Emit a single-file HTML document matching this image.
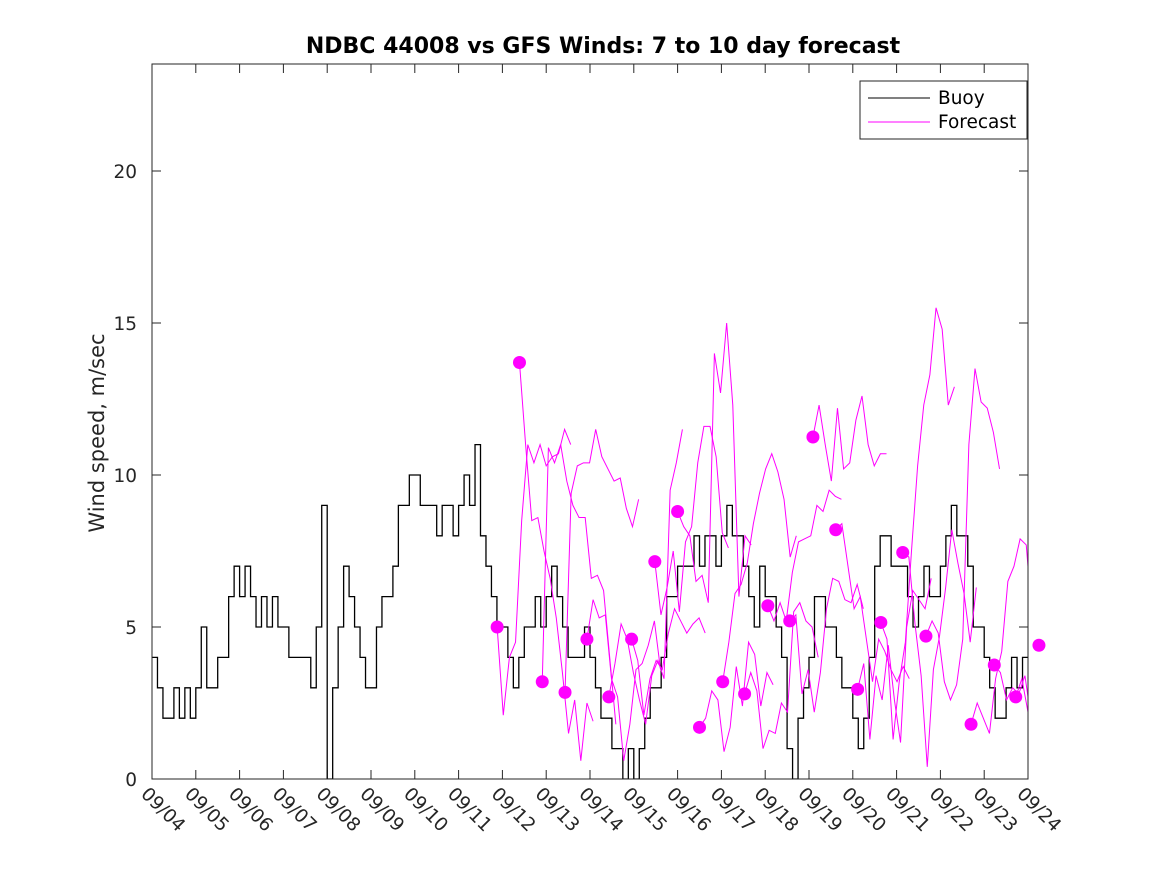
<!DOCTYPE html>
<html><head><meta charset="utf-8"><style>
body{margin:0;background:#fff;}
svg{font-family:"DejaVu Sans","Liberation Sans",sans-serif;}
</style></head><body>
<svg id="chart" width="1167" height="875" xmlns="http://www.w3.org/2000/svg">
<defs><clipPath id="plotclip"><rect x="152" y="64" width="876" height="715"/></clipPath></defs>
<rect x="0" y="0" width="1167" height="875" fill="#fff"/>
<rect x="152" y="64" width="876" height="715" fill="#fff"/>
<text x="603" y="53" text-anchor="middle" font-size="22" font-weight="bold" fill="#000">NDBC 44008 vs GFS Winds: 7 to 10 day forecast</text>
<text transform="translate(104,433) rotate(-90)" text-anchor="middle" font-size="21" fill="#262626">Wind speed, m/sec</text>
<g id="axes"></g>
<g id="series" clip-path="url(#plotclip)"></g>
<g id="dots"></g>
<rect x="152" y="64" width="876" height="715" fill="none" stroke="#262626" stroke-width="1"/>
<g>
<rect x="860" y="81" width="167" height="58" fill="#fff" stroke="#262626" stroke-width="1"/>
<line x1="868" y1="98" x2="930" y2="98" stroke="#000" stroke-width="1"/>
<text x="938" y="104" font-size="18.5" fill="#000">Buoy</text>
<line x1="868" y1="122" x2="930" y2="122" stroke="#ff00ff" stroke-width="1"/>
<text x="938" y="128" font-size="18.5" fill="#000">Forecast</text>
</g>
</svg>
<script>
const xTickLabels=["09/04","09/05","09/06","09/07","09/08","09/09","09/10","09/11","09/12","09/13","09/14","09/15","09/16","09/17","09/18","09/19","09/20","09/21","09/22","09/23","09/24"];
const yTicks=[0,5,10,15,20];
// buoy 3-hourly values, 8 per day starting 09/04
const buoy=[4,3,2,2,3,2,3,2, 3,5,3,3,4,4,6,7, 6,7,6,5,6,5,6,5, 5,4,4,4,4,3,5,9, 0,3,5,7,6,5,4,3,
 3,5,6,6,7,9,9,10, 10,9,9,9,8,9,9,8, 9,10,9,11,8,7,6,5, 5,4,3,4,5,5,6,5, 6,7,6,5,4,4,4,5,
 4,3,2,2,1,1,0,1, 0,1,2,3,3,4,6,6, 7,7,7,8,7,8,8,7, 8,9,8,8,7,6,5,7, 6,6,5,4,1,0,2,3,
 4,6,6,5,5,4,3,3, 2,1,2,4,7,8,8,7, 7,7,6,5,6,7,6,6, 7,8,9,8,8,7,5,5, 4,3,2,2,3,4,3,4];
// forecast start day (days after 09/04) and values along each forecast
const fcStart=[7.88,8.39,8.91,9.43,9.93,10.43,10.95,11.48,12.00,12.50,13.03,13.53,14.06,14.56,15.09,15.61,16.11,16.64,17.14,17.67,18.70,19.23,19.72,20.25];
const fcValues=[
[5,2.1,4,4.5,8.5,11,10.4,11,10.3,10.6,10.7,11.5,11],
[13.7,11,8.5,8.6,7.5,6.6,5.3,3.5,1.5,2.6,0.6,2.5,1.9],
[3.2,10.9,10.4,11,9.8,9.0,8.6,8.6,6.6,6.7,6.2,4,1.8],
[2.85,9.4,10.3,10.4,10.4,11.5,10.6,10.2,9.8,9.9,8.9,8.3,9.2],
[4.6,5.9,5.3,5.4,3.3,2.7,0.6,1.8,3.6,3.8,4.4,5.2,3.6],
[2.7,3.8,5.1,4.6,3.5,2.6,1.8,3.4,3.9,3.3,9.5,10.4,11.5],
[4.6,3.9,2.1,3.3,3.9,3.6,4.8,5.6,5.2,4.8,5.1,5.3,4.8],
[7.15,5.4,6.3,7.5,5.5,7.8,8.3,10.4,11.6,11.6,10.6,8.1,7.6],
[8.8,8.3,8.0,6.5,6.7,5.8,14,12.7,15,12.3,6,8,7.7],
[1.7,2.0,2.9,2.6,0.9,1.7,3.7,2.4,4.5,4.1,2.4,3.5,3.1],
[3.2,4.5,6.1,6.4,7.1,8.4,9.4,10.2,10.7,10.1,9.2,7.3,8],
[2.8,3.5,2.9,1.0,1.6,1.5,2.5,2.2,5.5,5.8,5.2,5.0,4.0],
[5.7,5.2,5.8,5.2,6.8,7.8,7.9,8.0,9.0,8.8,9.5,9.3,9.2],
[5.2,5.4,2.8,3.6,2.2,3.5,5.6,6.6,6.5,5.9,5.8,6.4,5.6],
[11.25,12.3,11,9.8,12.2,10.2,10.4,11.8,12.6,11.0,10.3,10.7,10.7],
[8.2,8.4,7.0,5.6,6.0,4.6,3.2,4.6,4.2,3.6,3.2,3.7,3.3],
[2.95,3.8,1.3,3.4,2.6,4.4,2.6,1.2,5.0,6.2,5.9,5.6,6.6],
[5.15,4.6,1.3,3.2,4.5,7.5,10.3,12.3,13.3,15.5,14.8,12.3,12.9],
[7.45,7.3,5.1,3.4,0.4,3.6,4.7,6.3,8.2,7.1,6.1,4.5,6.3],
[4.7,5.2,4.8,3.2,2.6,3.1,4.6,11.0,13.5,12.4,12.2,11.4,10.2],
[1.8,2.5,2.0,1.5,3.3,4.2,6.5,7.0,7.9,7.7,5.2,3.7,4.8],
[3.75,3.5,2.6,3.0,2.8,3.4,2.0,3.2,2.2,3.0,2.5,2.8,3.0],
[2.7,3.3,2.2,0.5,3.1,2.0,4.5,3.0,4.0,3.5,3.8,4.0,3.6],
[4.4,3.5,4.0,3.0,3.8,4.2,3.5,3.0,3.5,4.0,3.2,3.6,3.8]];
const fcStep=0.14;
const NS="http://www.w3.org/2000/svg";
const X=d=>152+d*(876/20), Y=v=>779-v*30.4;
function mk(tag,attrs,parent){const e=document.createElementNS(NS,tag);for(const k in attrs)e.setAttribute(k,attrs[k]);parent.appendChild(e);return e;}
const axes=document.getElementById('axes');
xTickLabels.forEach((lab,i)=>{const x=X(i);
 let t=mk('line',{x1:x,y1:779,x2:x,y2:770,stroke:'#262626'},axes);
 
 
 let t2=mk('line',{x1:x,y1:64,x2:x,y2:73,stroke:'#262626'},axes);
 
 
 let tx=mk('text',{transform:`translate(${x-12},${795}) rotate(45)`,'font-size':18.5,fill:'#262626'},axes);
 tx.textContent=lab;
 
 
});
yTicks.forEach(v=>{const y=Y(v);
 let t=mk('line',{x1:152,y1:y,x2:161,y2:y,stroke:'#262626'},axes);
 
 
 let t2=mk('line',{x1:1028,y1:y,x2:1019,y2:y,stroke:'#262626'},axes);
 
 
 let tx=mk('text',{x:137,y:y+7,'text-anchor':'end','font-size':18.5,fill:'#262626'},axes);
 tx.textContent=v;
 
 
});
const series=document.getElementById('series');
let pts=[];
buoy.forEach((v,i)=>{const d=i/8;if(i>0)pts.push(X(d)+','+Y(buoy[i-1]));pts.push(X(d)+','+Y(v));});
pts.push(X(20)+','+Y(buoy[buoy.length-1]));
let bl=mk('polyline',{points:pts.join(' '),fill:'none',stroke:'#000','stroke-width':1.3},series);


const dots=document.getElementById('dots');
fcValues.forEach((vals,k)=>{
 const p=vals.map((v,j)=>X(fcStart[k]+j*fcStep)+','+Y(v)).join(' ');
 let l=mk('polyline',{points:p,fill:'none',stroke:'#ff00ff','stroke-width':1},series);
 
 
 let c=mk('circle',{cx:X(fcStart[k]),cy:Y(vals[0]),r:6.5,fill:'#ff00ff'},dots);
 
 
});
</script>
</body></html>
